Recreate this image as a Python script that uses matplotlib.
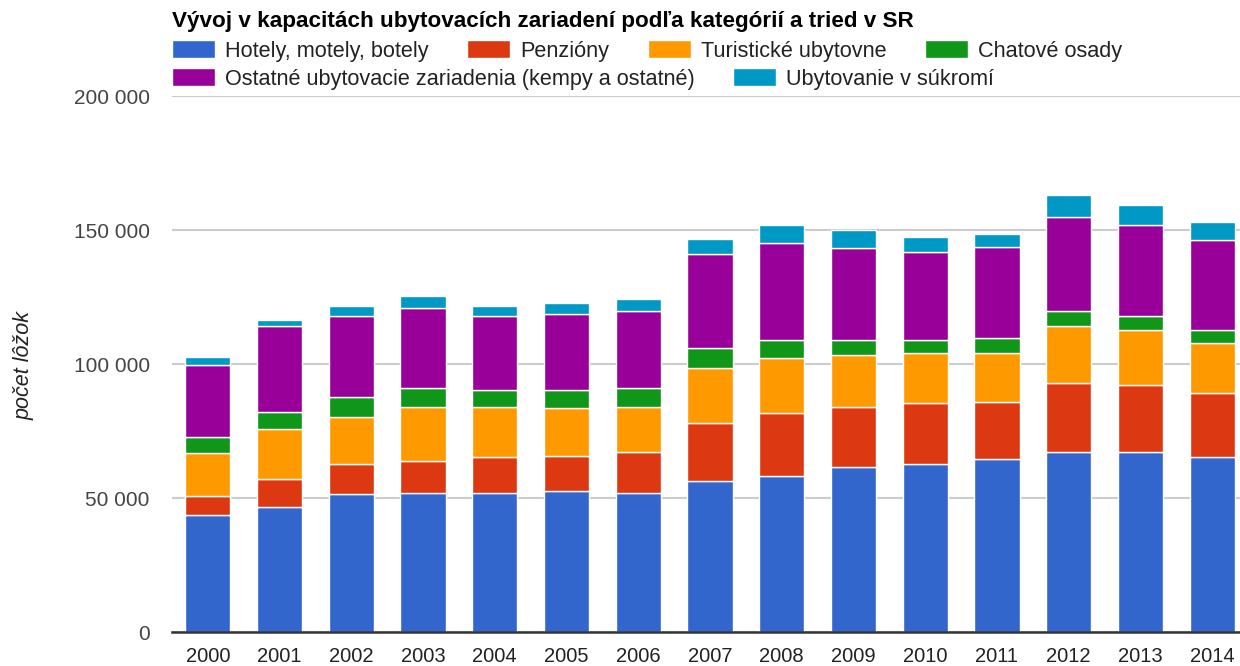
import matplotlib
matplotlib.use("Agg")
import matplotlib.pyplot as plt
import numpy as np

plt.rcParams['font.family'] = ['Liberation Sans', 'DejaVu Sans']

years = ["2000", "2001", "2002", "2003", "2004", "2005", "2006", "2007",
         "2008", "2009", "2010", "2011", "2012", "2013", "2014"]
series_names = ["Hotely, motely, botely", "Penzióny", "Turistické ubytovne",
                "Chatové osady", "Ostatné ubytovacie zariadenia (kempy a ostatné)",
                "Ubytovanie v súkromí"]
hotely = [43700, 46800, 51400, 52000, 52000, 52600, 52000, 56500, 58300, 61400, 62700, 64600, 67000, 67000, 65200]
penziony = [7000, 10200, 11300, 11900, 13200, 13200, 15000, 21400, 23300, 22700, 22600, 21300, 25800, 25200, 23900]
ubytovne = [16200, 18900, 17600, 20200, 18900, 17700, 17100, 20500, 20500, 19300, 18700, 18100, 21400, 20500, 18600]
chatove = [5700, 6300, 7500, 6800, 6200, 6800, 6800, 7500, 6900, 5600, 5000, 5600, 5600, 5200, 5000]
ostatne = [27000, 32100, 30200, 30100, 27700, 28400, 29000, 35100, 36000, 34200, 32900, 34200, 35200, 34000, 33600]
sukromie = [3100, 2300, 3600, 4400, 3600, 4200, 4400, 5600, 6700, 6800, 5500, 4800, 8100, 7400, 6700]
yticks = [0, 50000, 100000, 150000, 200000]
ytick_labels = ["0", "50 000", "100 000", "150 000", "200 000"]

colors = ["#3366cc", "#dc3912", "#ff9900", "#109618", "#990099", "#0099c6"]
data = [hotely, penziony, ubytovne, chatove, ostatne, sukromie]

W, H = 1240, 666
fig = plt.figure(figsize=(W / 100, H / 100), dpi=100)
ax = fig.add_axes([172 / W, 1 - 632 / H, (1248 - 172) / W, (632 - 96) / H])

x = np.arange(len(years))
bottom = np.zeros(len(years))
handles = []
for vals, col, name in zip(data, colors, series_names):
    b = ax.bar(x, vals, width=0.63, bottom=bottom, color=col,
               edgecolor="white", linewidth=1.0, label=name, zorder=3)
    handles.append(b)
    bottom += np.array(vals)

ax.set_xlim(-0.5, len(years) - 0.5)
ax.set_ylim(0, 200000)
ax.set_yticks(yticks)
ax.set_yticklabels(ytick_labels)
ax.set_xticks(x)
ax.set_xticklabels(years)
ax.tick_params(axis='y', length=0, pad=16, labelsize=15, labelcolor="#444444")
ax.tick_params(axis='x', length=0, pad=11, labelsize=14.5, labelcolor="#222222")
ax.grid(axis='y', color="#cccccc", linewidth=1.5, zorder=0)
ax.set_axisbelow(True)
for s in ["top", "right", "left"]:
    ax.spines[s].set_visible(False)
ax.spines["bottom"].set_color("#333333")
ax.spines["bottom"].set_linewidth(1.8)
ax.spines["bottom"].set_zorder(5)

fig.text(24 / W, 1 - 365 / H, "počet lôžok", rotation=90, style="italic",
         fontsize=15.5, color="#222222", ha="center", va="center")

fig.text(172 / W, 1 - 22 / H, "Vývoj v kapacitách ubytovacích zariadení podľa kategórií a tried v SR",
         fontsize=16.2, fontweight="bold", color="#000000", ha="left", va="center")

fs = 15.6
common = dict(frameon=False, fontsize=fs, handlelength=1.97, handleheight=0.87,
              handletextpad=0.46, columnspacing=1.8, borderpad=0, borderaxespad=0,
              labelcolor="#222222")
leg1 = fig.legend(handles[:4], series_names[:4], ncol=4, loc="center left",
                  bbox_to_anchor=(172 / W, 1 - 51 / H), **common)
leg2 = fig.legend([handles[4], handles[5]], series_names[4:], ncol=2, loc="center left",
                  bbox_to_anchor=(172 / W, 1 - 79 / H), **common)

fig.savefig("out.png", dpi=100)
